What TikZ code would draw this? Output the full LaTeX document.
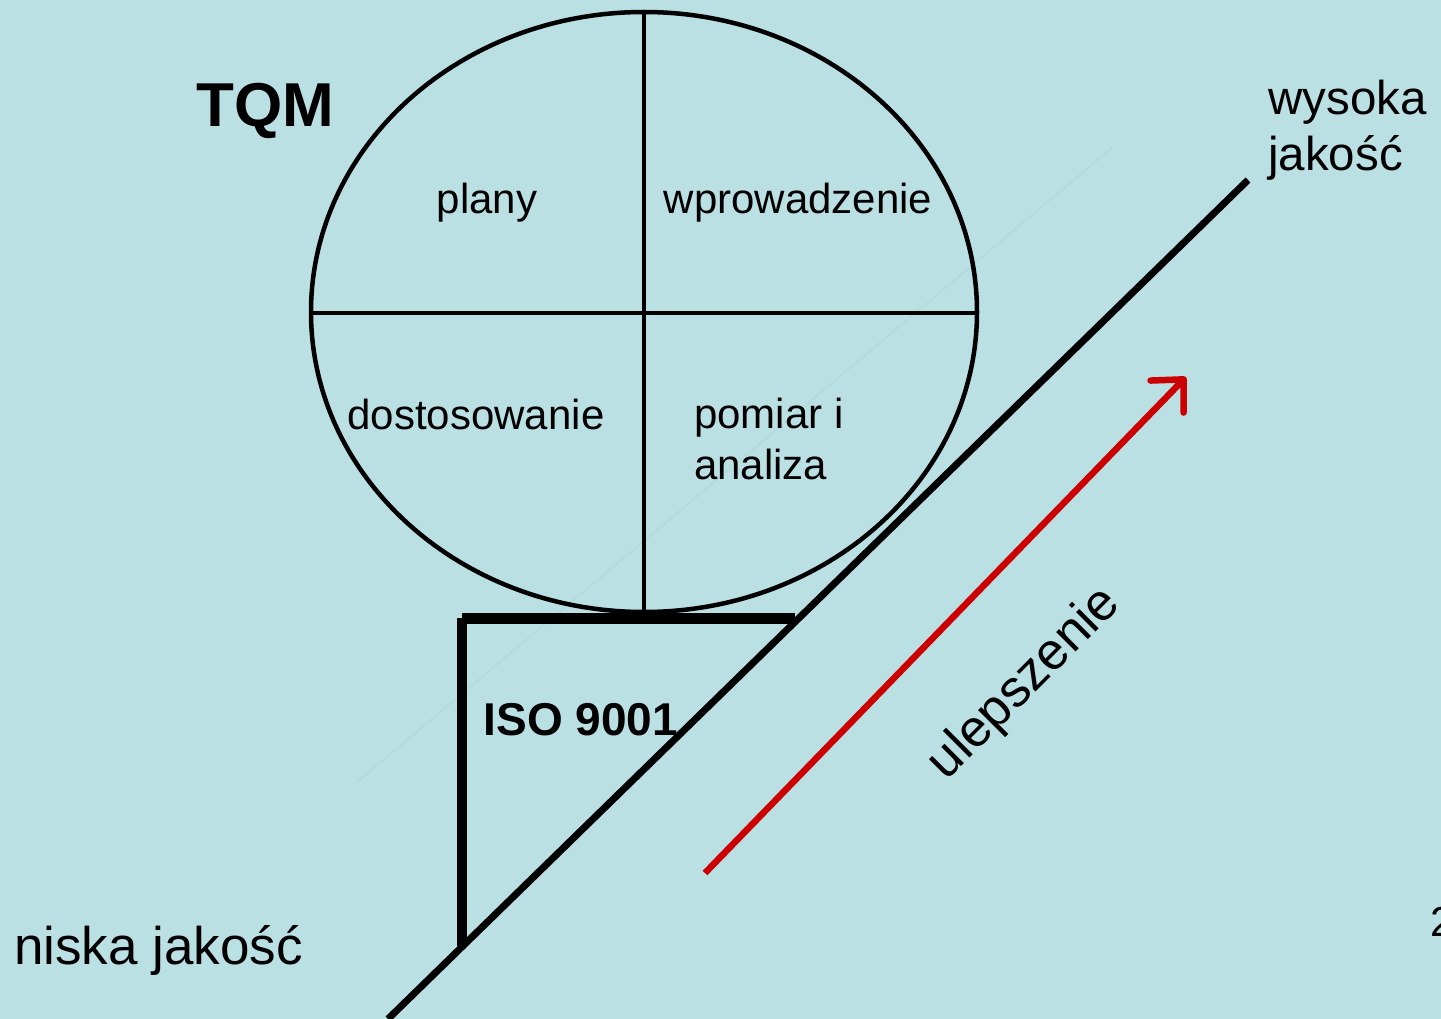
\documentclass[tikz,border=0pt]{standalone}
\usepackage{fontspec}
\setmainfont{Liberation Sans}
\usetikzlibrary{arrows.meta}
\definecolor{bg}{HTML}{BBE0E3}
\definecolor{faint}{HTML}{B4DADD}
\definecolor{arrowred}{HTML}{CC0000}
\tikzset{
  txt/.style={inner sep=0pt, font=\fontsize{42}{51}\selectfont},
  heavy/.style={line width=11pt},
  thin/.style={line width=4.5pt},
}
\begin{document}
\begin{tikzpicture}[x=1pt,y=-1pt]
\fill[bg] (0,0) rectangle (1441,1019);
\useasboundingbox (0,0) rectangle (1441,1019);

% faint guide line behind everything
\coordinate (g1) at (357,782);
\coordinate (g2) at (1113,147);
\draw[faint, line width=1.5pt] (g1) -- (g2);

% TQM circle divided into four quarters
\coordinate (c) at (644,312);
\draw[thin] (c) ellipse [x radius=333, y radius=300];
\coordinate (top) at (644,12);
\coordinate (bot) at (644,612);
\coordinate (lft) at (311,313);
\coordinate (rgt) at (977,313);
\draw[thin] (top) -- (bot);
\draw[thin] (lft) -- (rgt);

% ISO 9001 support
\coordinate (b1) at (462,618);
\coordinate (b2) at (795,618);
\coordinate (b3) at (462,946);
\draw[heavy] (b1) -- (b2);
\draw[line width=10pt] (b1) -- (b3);

% quality slope
\coordinate (low) at (388,1019);
\coordinate (high) at (1248,180);
\draw[line width=7pt] (low) -- (high);

% improvement arrow
\coordinate (a1) at (705,873);
\coordinate (a2) at (1186,377);
\draw[arrowred, line width=6.5pt, -{Straight Barb[length=24pt,width=46pt,round]}] (a1) -- (a2);

% labels
\node[inner sep=0pt, font=\fontsize{62}{70}\selectfont\bfseries] (tqm) at (265,111) {TQM};
\node[txt] (plany) at (487,203) {plany};
\node[txt] (wpr) at (798,203) {wprowadzenie};
\node[txt] (dost) at (476,414) {dostosowanie};
\node[txt, anchor=west, align=left] (pom) at (694,439) {pomiar i\\analiza};
\node[inner sep=0pt, font=\fontsize{46}{52}\selectfont\bfseries] (iso) at (581,720) {ISO 9001};
\node[inner sep=0pt, font=\fontsize{47.5}{56}\selectfont, anchor=west, align=left] (wys) at (1268,130) {wysoka\\jakość};
\node[inner sep=0pt, font=\fontsize{53}{60}\selectfont, anchor=west] (nis) at (14,950) {niska jakość};
\node[inner sep=0pt, font=\fontsize{52}{58}\selectfont, rotate=45] (ulep) at (1025,684) {ulepszenie};
\node[inner sep=0pt, font=\fontsize{42}{50}\selectfont, anchor=west] (pg) at (1430,922) {2};
\end{tikzpicture}
\end{document}
